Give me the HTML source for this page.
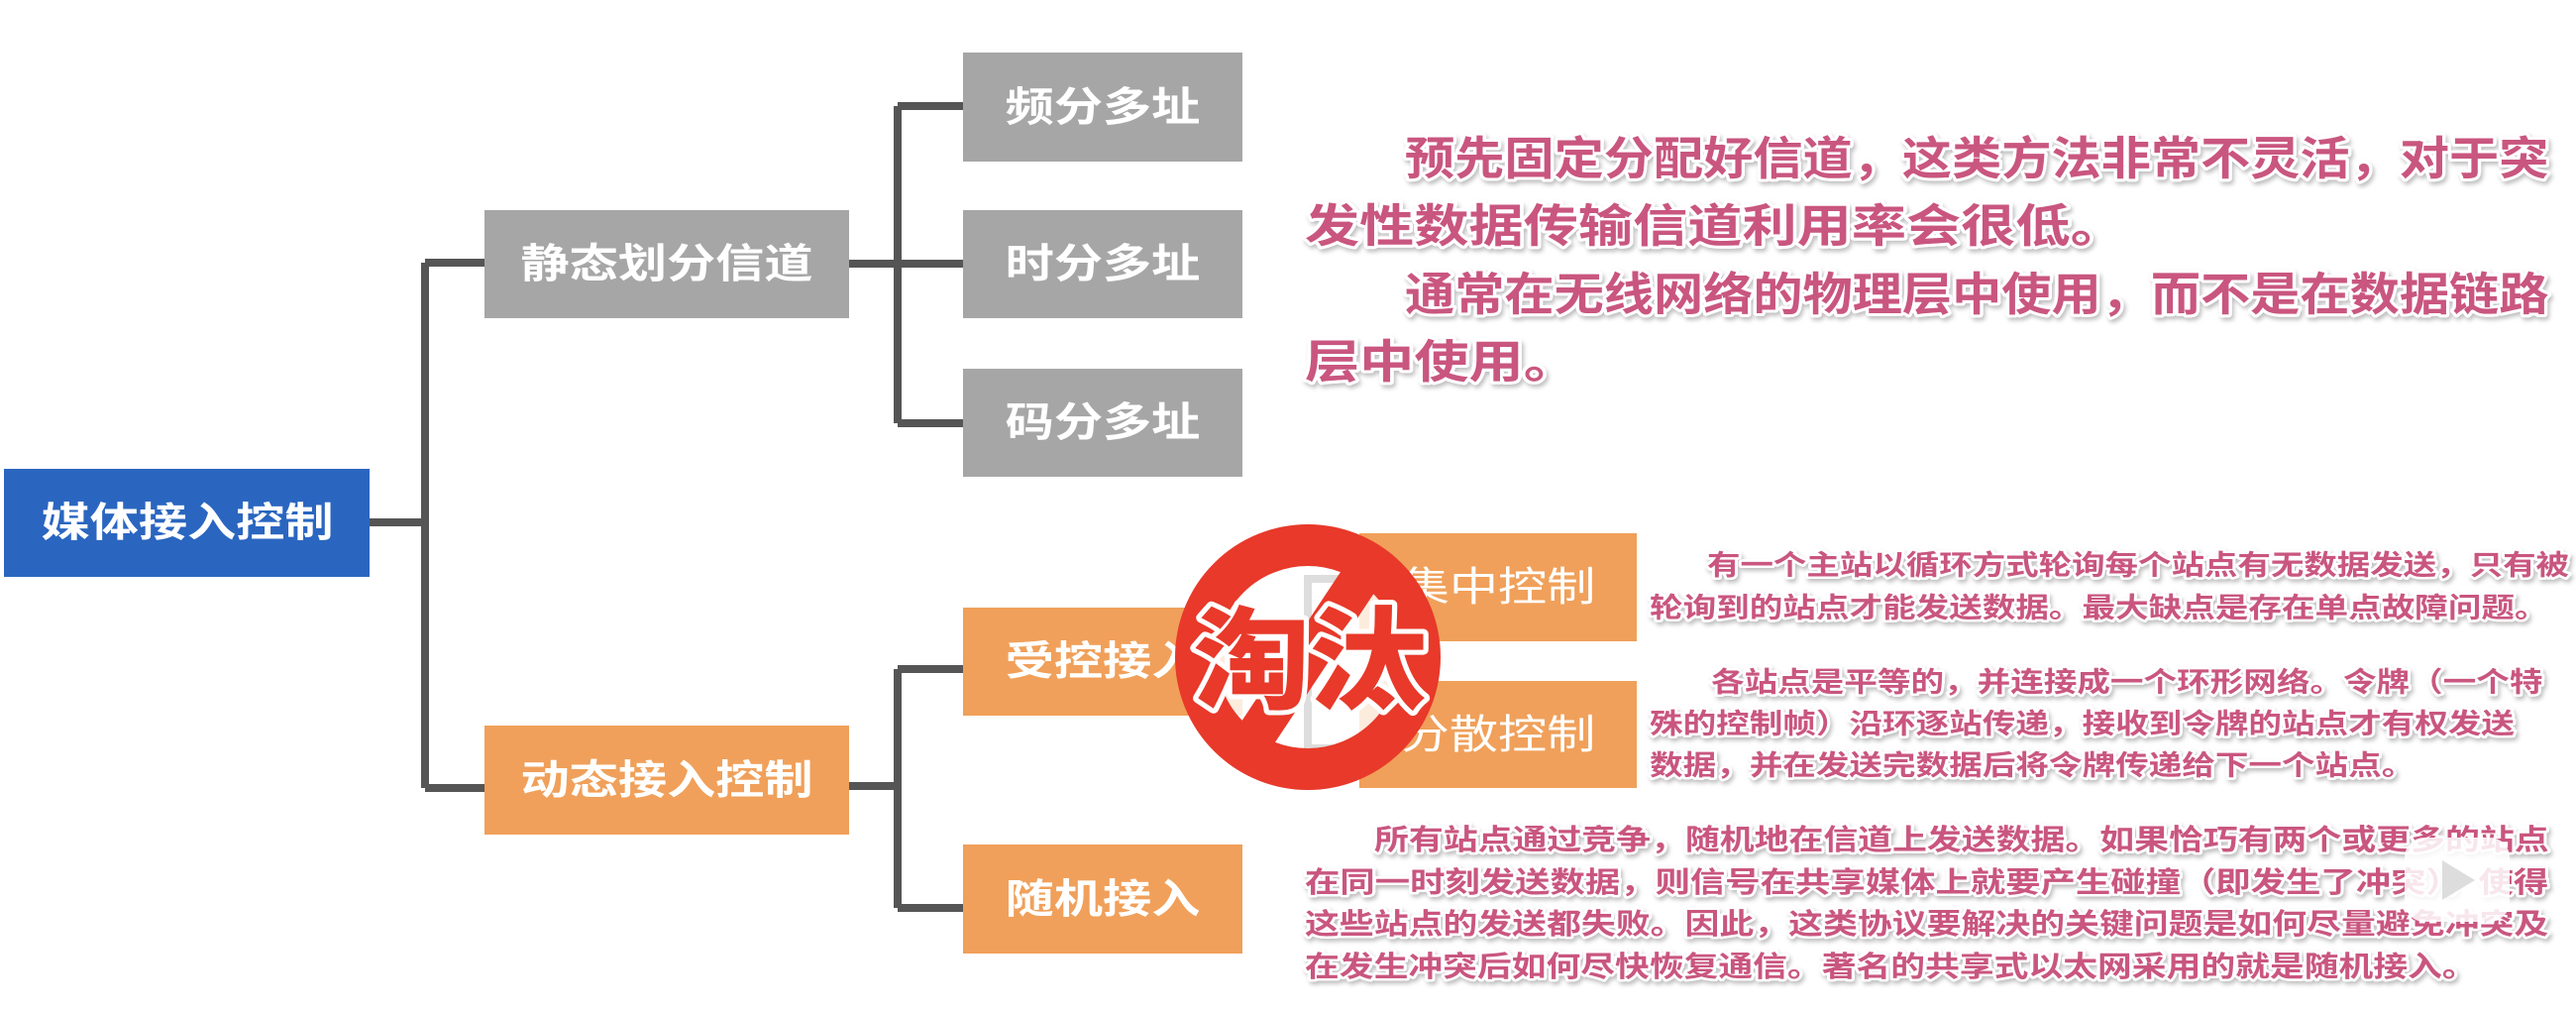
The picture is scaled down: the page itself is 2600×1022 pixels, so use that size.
<!DOCTYPE html>
<html><head><meta charset="utf-8"><style>
html,body{margin:0;padding:0;background:#fff;width:2600px;height:1022px;overflow:hidden}
svg{display:block}
.n{font-family:"Liberation Sans","Noto Sans CJK SC",sans-serif;font-weight:bold;font-size:41px;fill:#fff}
.p{font-family:"Liberation Sans","Noto Sans CJK SC",sans-serif;font-weight:bold;fill:#c9567f;stroke:#fff;stroke-width:6px;paint-order:stroke;stroke-linejoin:round}
</style></head><body>
<svg width="2600" height="1022" viewBox="0 0 2600 1022" xmlns="http://www.w3.org/2000/svg">
<defs><filter id="sh" x="-5%" y="-20%" width="110%" height="140%"><feDropShadow dx="2" dy="3" stdDeviation="2" flood-color="#000" flood-opacity="0.25"/></filter></defs>
<g stroke="#555" stroke-width="8" fill="none">
<path d="M373 527 H429 M429 265 V795 M429 265 H489 M429 795 H489"/>
<path d="M857 266 H972 M906 107 V427 M906 107 H972 M906 427 H972"/>
<path d="M857 793 H906 M906 675 V916 M906 675 H972 M906 916 H972"/>
<path d="M1370 584 H1320 V755 H1370"/>
</g>
<rect x="4" y="473" width="369" height="109" fill="#2a66c0"/>
<rect x="489" y="212" width="368" height="109" fill="#a6a6a6"/>
<rect x="489" y="732" width="368" height="110" fill="#f0a05a"/>
<rect x="972" y="53" width="282" height="110" fill="#a6a6a6"/>
<rect x="972" y="212" width="282" height="109" fill="#a6a6a6"/>
<rect x="972" y="372" width="282" height="109" fill="#a6a6a6"/>
<rect x="972" y="613" width="282" height="109" fill="#f0a05a"/>
<rect x="972" y="852" width="282" height="110" fill="#f0a05a"/>
<rect x="1372" y="538" width="280" height="109" fill="#f0a05a"/>
<rect x="1372" y="687" width="280" height="108" fill="#f0a05a"/>
<g class="n" text-anchor="middle" dominant-baseline="central">
<text transform="translate(189,527) scale(1.2,1)">媒体接入控制</text>
<text transform="translate(673,266) scale(1.2,1)">静态划分信道</text>
<text transform="translate(673,787) scale(1.2,1)">动态接入控制</text>
<text transform="translate(1113,108) scale(1.2,1)">频分多址</text>
<text transform="translate(1113,266) scale(1.2,1)">时分多址</text>
<text transform="translate(1113,426) scale(1.2,1)">码分多址</text>
<text transform="translate(1113,667) scale(1.2,1)">受控接入</text>
<text transform="translate(1113,907) scale(1.2,1)">随机接入</text>
<text transform="translate(1512,592) scale(1.2,1)" style="font-weight:normal">集中控制</text>
<text transform="translate(1512,741) scale(1.2,1)" style="font-weight:normal">分散控制</text>
</g>
<circle cx="1320" cy="663" r="113" fill="#fff" fill-opacity="0.8" stroke="#e8392a" stroke-width="42"/>
<line x1="1385" y1="565" x2="1255" y2="761" stroke="#e8392a" stroke-width="40"/>
<text transform="translate(1322,668) scale(1.05,1)" text-anchor="middle" dominant-baseline="central" style="font-family:'Liberation Sans','Noto Sans CJK SC',sans-serif;font-weight:900;font-size:112px;fill:#e8392a;stroke:#fff;stroke-width:10px;paint-order:stroke;stroke-linejoin:round">淘汰</text>
<g class="p" filter="url(#sh)" dominant-baseline="central">
<g style="font-size:46px">
<text transform="translate(1418,160) scale(1.2,1)" textLength="962" lengthAdjust="spacingAndGlyphs">预先固定分配好信道，这类方法非常不灵活，对于突</text>
<text transform="translate(1317,228) scale(1.2,1)">发性数据传输信道利用率会很低。</text>
<text transform="translate(1418,297) scale(1.2,1)" textLength="962" lengthAdjust="spacingAndGlyphs">通常在无线网络的物理层中使用，而不是在数据链路</text>
<text transform="translate(1317,365) scale(1.2,1)">层中使用。</text>
</g>
<g style="font-size:28px;stroke-width:5px">
<text transform="translate(1723,570) scale(1.2,1)" textLength="725" lengthAdjust="spacingAndGlyphs">有一个主站以循环方式轮询每个站点有无数据发送，只有被</text>
<text transform="translate(1665,613) scale(1.2,1)">轮询到的站点才能发送数据。最大缺点是存在单点故障问题。</text>
<text transform="translate(1727,688) scale(1.2,1)">各站点是平等的，并连接成一个环形网络。令牌（一个特</text>
<text transform="translate(1665,730) scale(1.2,1)">殊的控制帧）沿环逐站传递，接收到令牌的站点才有权发送</text>
<text transform="translate(1665,772) scale(1.2,1)">数据，并在发送完数据后将令牌传递给下一个站点。</text>
</g>
<g style="font-size:29px;stroke-width:5px">
<text transform="translate(1387,847) scale(1.2,1)" textLength="988" lengthAdjust="spacingAndGlyphs">所有站点通过竞争，随机地在信道上发送数据。如果恰巧有两个或更多的站点</text>
<text transform="translate(1317,890) scale(1.2,1)" textLength="1046" lengthAdjust="spacingAndGlyphs">在同一时刻发送数据，则信号在共享媒体上就要产生碰撞（即发生了冲突）。使得</text>
<text transform="translate(1317,932) scale(1.2,1)" textLength="1046" lengthAdjust="spacingAndGlyphs">这些站点的发送都失败。因此，这类协议要解决的关键问题是如何尽量避免冲突及</text>
<text transform="translate(1317,975) scale(1.2,1)">在发生冲突后如何尽快恢复通信。著名的共享式以太网采用的就是随机接入。</text>
</g>
</g>
<rect x="2427" y="845" width="106" height="85" rx="20" fill="#fff" fill-opacity="0.85"/>
<path d="M2465 868 L2465 908 L2498 888 Z" fill="#ddd"/>
</svg>
</body></html>
